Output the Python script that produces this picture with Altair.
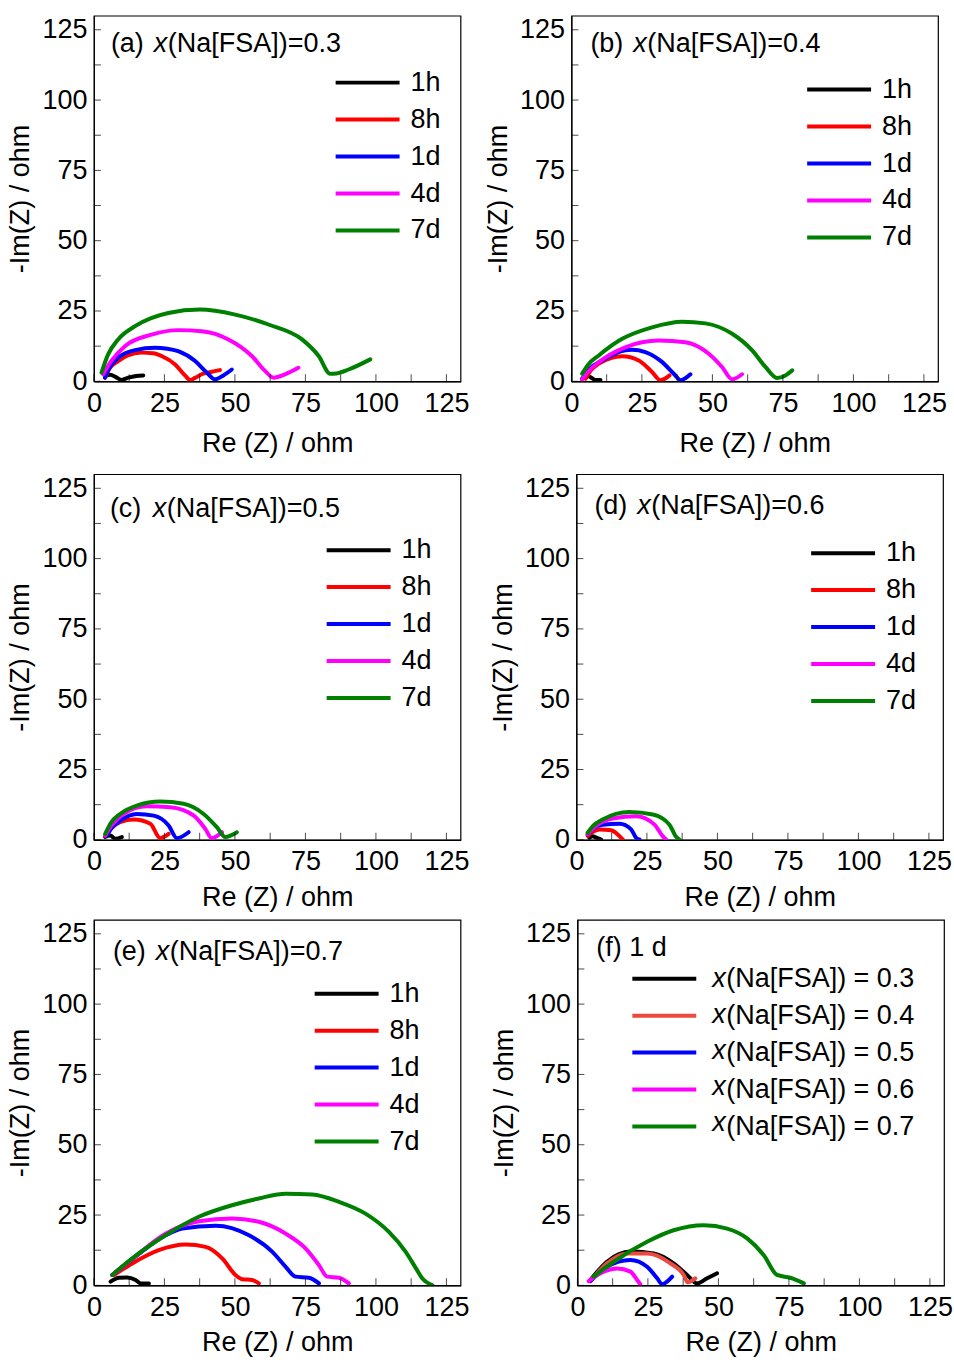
import altair as alt
import pandas as pd

FONT = "Liberation Sans"
FS = 27
W, H = 367, 366
DOMAIN = [0, 130]
LABEL_VALUES = [0, 25, 50, 75, 100, 125]
TICK_VALUES = [0, 12.5, 25, 37.5, 50, 62.5, 75, 87.5, 100, 112.5, 125]

TIME_LABELS = ["1h", "8h", "1d", "4d", "7d"]
TIME_COLORS = ["#000000", "#ff0000", "#0000ff", "#ff00ff", "#008000"]
F_LABELS = ["(Na[FSA]) = 0.3", "(Na[FSA]) = 0.4", "(Na[FSA]) = 0.5",
            "(Na[FSA]) = 0.6", "(Na[FSA]) = 0.7"]
F_COLORS = ["#000000", "#ec4a40", "#0000ff", "#ff00ff", "#008000"]

# ---- (a) x = 0.3 ----
A_1H_RE = [3.9, 5.7, 8.1, 9.8, 12.2, 15.0, 17.5]
A_1H_IM = [1.7, 2.3, 1.3, 0.5, 1.3, 1.9, 2.1]
A_8H_RE = [3.9, 5.5, 8.6, 12.0, 16.9, 21.0, 24.0, 28.8, 32.3, 34.1, 36.0, 38.2, 41.5, 44.7]
A_8H_IM = [1.3, 4.5, 7.2, 9.2, 10.2, 10.0, 9.0, 6.0, 2.1, 0.5, 1.3, 2.5, 3.3, 4.0]
A_1D_RE = [3.9, 5.5, 8.6, 14.6, 21.7, 26.0, 29.9, 35.9, 40.0, 43.0, 45.9, 48.9]
A_1D_IM = [1.3, 4.8, 8.4, 11.1, 11.9, 11.6, 10.7, 7.2, 3.1, 0.7, 2.1, 4.2]
A_4D_RE = [3.3, 6.0, 11.0, 20.5, 29.9, 38.2, 47.7, 56.0, 60.7, 63.7, 67.8, 72.5]
A_4D_IM = [2.5, 7.0, 12.5, 16.6, 18.2, 17.8, 14.9, 9.0, 3.7, 1.3, 2.5, 4.8]
A_7D_RE = [2.7, 5.0, 8.6, 14.6, 26.4, 37.6, 50.1, 61.9, 73.8, 79.7, 83.8, 86.0, 90.3, 98.0]
A_7D_IM = [3.1, 9.5, 14.9, 19.6, 24.3, 25.5, 23.7, 20.2, 14.9, 9.0, 2.7, 2.8, 4.2, 7.8]

# ---- (b) x = 0.4 ----
B_1H_RE = [3.8, 6.1, 7.5, 8.5, 10.3]
B_1H_IM = [0.9, 1.8, 1.0, 0.5, 0.5]
B_8H_RE = [5.0, 7.0, 9.7, 14.0, 18.0, 23.9, 28.6, 31.6, 34.8]
B_8H_IM = [0.9, 4.0, 6.3, 8.3, 8.9, 7.4, 3.3, 0.4, 2.1]
B_1D_RE = [3.8, 6.5, 10.9, 19.1, 21.5, 26.2, 32.1, 36.3, 38.7, 42.2]
B_1D_IM = [0.8, 4.5, 7.4, 11.0, 11.2, 10.4, 6.9, 2.7, 0.4, 2.5]
B_4D_RE = [3.8, 6.0, 9.7, 19.1, 31.0, 40.4, 48.7, 53.4, 57.0, 60.5]
B_4D_IM = [0.6, 3.5, 6.8, 12.1, 14.5, 13.9, 9.8, 5.1, 0.7, 2.5]
B_7D_RE = [3.8, 6.0, 9.7, 18.0, 28.6, 39.3, 47.5, 57.0, 64.1, 68.8, 72.9, 75.9, 78.3]
B_7D_IM = [2.7, 6.0, 9.2, 15.1, 19.2, 21.2, 20.6, 16.9, 11.0, 5.1, 1.2, 2.1, 3.9]

# ---- (c) x = 0.5 ----
C_1H_RE = [4.0, 5.8, 7.6, 9.9]
C_1H_IM = [1.0, 1.5, 0.4, 1.0]
C_8H_RE = [4.0, 6.0, 9.3, 14.1, 20.0, 23.5, 26.5]
C_8H_IM = [1.5, 4.0, 6.3, 7.2, 5.7, 0.6, 2.1]
C_1D_RE = [4.6, 6.5, 9.3, 15.2, 21.2, 26.5, 29.4, 33.6]
C_1D_IM = [1.5, 4.5, 6.8, 9.2, 8.6, 5.1, 0.6, 2.7]
C_4D_RE = [4.0, 6.5, 10.5, 18.8, 27.1, 35.4, 39.5, 41.8, 45.4]
C_4D_IM = [1.5, 5.5, 9.2, 11.9, 11.6, 8.6, 3.9, 0.6, 2.7]
C_7D_RE = [4.0, 6.0, 9.3, 15.2, 23.5, 31.8, 38.9, 43.6, 46.6, 50.7]
C_7D_IM = [2.1, 6.0, 9.2, 12.2, 13.6, 12.8, 9.2, 4.5, 1.0, 2.7]

# ---- (d) x = 0.6 ----
D_1H_RE = [4.6, 5.8, 7.0, 8.8]
D_1H_IM = [0.7, 1.3, 0.8, 0.1]
D_8H_RE = [4.0, 6.0, 8.2, 12.3, 15.3, 16.5]
D_8H_IM = [1.4, 3.0, 3.7, 3.4, 1.3, 0.1]
D_1D_RE = [4.0, 6.0, 9.3, 15.3, 19.4, 21.2, 22.4]
D_1D_IM = [1.9, 4.0, 5.4, 5.7, 3.7, 0.7, 0.1]
D_4D_RE = [4.0, 7.0, 12.9, 21.2, 27.7, 30.6, 31.8]
D_4D_IM = [2.0, 5.0, 7.6, 8.4, 5.4, 1.3, 0.1]
D_7D_RE = [4.0, 6.0, 9.3, 18.8, 27.1, 33.0, 35.2, 36.6]
D_7D_IM = [2.5, 5.0, 7.2, 9.9, 9.0, 5.4, 1.3, 0.1]

# ---- (e) x = 0.7 ----
E_1H_RE = [5.9, 8.9, 11.8, 14.8, 16.6, 19.5]
E_1H_IM = [1.3, 2.7, 2.8, 1.9, 0.7, 0.7]
E_8H_RE = [7.1, 13.6, 23.0, 32.5, 39.6, 45.5, 50.2, 52.6, 56.1, 58.5]
E_8H_IM = [3.7, 7.8, 12.5, 14.5, 13.7, 9.6, 3.7, 2.2, 1.9, 0.7]
E_1D_RE = [6.5, 13.6, 25.4, 31.3, 43.2, 55.0, 63.2, 68.0, 71.5, 76.2, 79.8]
E_1D_IM = [3.7, 9.3, 17.8, 20.2, 21.2, 17.8, 12.0, 6.6, 3.1, 2.7, 0.7]
E_4D_RE = [6.5, 13.6, 25.4, 37.2, 49.0, 58.5, 68.0, 75.1, 79.8, 82.7, 86.9, 90.4]
E_4D_IM = [3.7, 9.4, 18.4, 22.8, 23.8, 22.6, 18.4, 13.1, 7.2, 3.1, 2.7, 0.7]
E_7D_RE = [6.5, 13.6, 25.4, 37.2, 49.0, 58.5, 68.0, 77.4, 86.9, 96.3, 104.6, 110.5, 114.6, 116.4, 120.0]
E_7D_IM = [3.7, 9.6, 17.8, 24.4, 28.5, 30.9, 32.6, 32.3, 29.7, 25.5, 19.0, 12.0, 5.4, 2.5, 0.1]

# ---- (f) 1 d ----
F_03_RE = [4.6, 10.5, 18.8, 27.1, 34.1, 38.9, 42.4, 46.0, 49.5]
F_03_IM = [1.9, 8.4, 12.0, 11.3, 7.8, 3.7, 0.7, 2.5, 4.3]
F_04_RE = [4.6, 10.5, 17.6, 24.7, 33.0, 37.7, 39.1, 41.8]
F_04_IM = [1.5, 7.8, 11.3, 11.3, 7.8, 3.7, 1.1, 2.5]
F_05_RE = [4.6, 10.5, 18.8, 24.7, 28.3, 30.0, 33.6]
F_05_IM = [1.5, 6.6, 9.0, 6.6, 2.5, 0.4, 3.1]
F_06_RE = [4.0, 8.2, 14.1, 18.8, 21.2, 22.3]
F_06_IM = [1.5, 4.3, 6.0, 4.9, 1.9, 0.4]
F_07_RE = [5.8, 12.9, 24.7, 34.1, 44.8, 53.1, 60.2, 66.1, 70.8, 75.5, 80.3]
F_07_IM = [3.1, 8.4, 15.5, 19.6, 21.4, 20.2, 16.7, 10.7, 3.7, 2.7, 0.7]


def make_df(labels, series):
    rows = []
    for lab, (re, im) in zip(labels, series):
        for i, (r, m) in enumerate(zip(re, im)):
            rows.append({"series": lab, "re": r, "im": m, "i": i})
    return pd.DataFrame(rows)


def panel(df, labels, colors, tag, rest, italic_x, title_off, legend_off,
          label_offset=9, legend_italic=False, xtitle_pad=14):
    xs = alt.Scale(domain=DOMAIN, nice=False, zero=False)
    ys = alt.Scale(domain=DOMAIN, nice=False, zero=False)
    xaxis = alt.Axis(values=LABEL_VALUES, title="Re (Z) / ohm", titlePadding=xtitle_pad)
    yaxis = alt.Axis(values=LABEL_VALUES, title="-Im(Z) / ohm", titlePadding=7)

    lines = alt.Chart(df).mark_line(strokeWidth=4, clip=True, strokeJoin="round",
                                    strokeCap="round", interpolate="monotone").encode(
        x=alt.X("re:Q", scale=xs, axis=xaxis),
        y=alt.Y("im:Q", scale=ys, axis=yaxis),
        color=alt.Color("series:N", scale=alt.Scale(domain=labels, range=colors),
                        legend=alt.Legend(title=None, orient="none",
                                          legendX=legend_off[0], legendY=legend_off[1],
                                          labelOffset=label_offset)),
        order=alt.Order("i:Q"),
    )

    tdf = pd.DataFrame({"re": TICK_VALUES, "im": TICK_VALUES})
    xt = alt.Chart(tdf).mark_tick(orient="vertical", size=7, thickness=1,
                                  color="black").encode(
        x=alt.X("re:Q", scale=xs, axis=xaxis), y=alt.value(H - 3.5))
    yt = alt.Chart(tdf).mark_tick(orient="horizontal", size=7, thickness=1,
                                  color="black").encode(
        y=alt.Y("im:Q", scale=ys, axis=yaxis), x=alt.value(3.5))

    one = pd.DataFrame({"k": [0]})
    tx, ty = title_off
    layers = [lines, xt, yt]
    layers.append(alt.Chart(one).mark_text(text=tag, align="left", baseline="alphabetic",
                                           font=FONT, fontSize=FS, color="black")
                  .encode(x=alt.value(tx), y=alt.value(ty)))
    if italic_x:
        layers.append(alt.Chart(one).mark_text(text="x", align="left", baseline="alphabetic",
                                               font=FONT, fontSize=FS, fontStyle="italic",
                                               color="black")
                      .encode(x=alt.value(tx + 43), y=alt.value(ty)))
        layers.append(alt.Chart(one).mark_text(text=rest, align="left", baseline="alphabetic",
                                               font=FONT, fontSize=FS, color="black")
                      .encode(x=alt.value(tx + 57), y=alt.value(ty)))
    if legend_italic:
        for k in range(len(labels)):
            layers.append(alt.Chart(one).mark_text(text="x", align="left", baseline="middle",
                                                   font=FONT, fontSize=FS, fontStyle="italic",
                                                   color="black")
                          .encode(x=alt.value(legend_off[0] + 82),
                                  y=alt.value(legend_off[1] + 13 + 36 * k)))
    return alt.layer(*layers).properties(width=W, height=H)


pa = panel(make_df(TIME_LABELS, [(A_1H_RE, A_1H_IM), (A_8H_RE, A_8H_IM), (A_1D_RE, A_1D_IM),
                                 (A_4D_RE, A_4D_IM), (A_7D_RE, A_7D_IM)]),
           TIME_LABELS, TIME_COLORS, "(a)", "(Na[FSA])=0.3", True, (17, 36), (240, 54))
pb = panel(make_df(TIME_LABELS, [(B_1H_RE, B_1H_IM), (B_8H_RE, B_8H_IM), (B_1D_RE, B_1D_IM),
                                 (B_4D_RE, B_4D_IM), (B_7D_RE, B_7D_IM)]),
           TIME_LABELS, TIME_COLORS, "(b)", "(Na[FSA])=0.4", True, (19, 36), (234, 61))
pc = panel(make_df(TIME_LABELS, [(C_1H_RE, C_1H_IM), (C_8H_RE, C_8H_IM), (C_1D_RE, C_1D_IM),
                                 (C_4D_RE, C_4D_IM), (C_7D_RE, C_7D_IM)]),
           TIME_LABELS, TIME_COLORS, "(c)", "(Na[FSA])=0.5", True, (16, 43), (231, 63),
           xtitle_pad=10)
pd_ = panel(make_df(TIME_LABELS, [(D_1H_RE, D_1H_IM), (D_8H_RE, D_8H_IM), (D_1D_RE, D_1D_IM),
                                  (D_4D_RE, D_4D_IM), (D_7D_RE, D_7D_IM)]),
            TIME_LABELS, TIME_COLORS, "(d)", "(Na[FSA])=0.6", True, (18, 40), (233, 66),
            xtitle_pad=10)
pe = panel(make_df(TIME_LABELS, [(E_1H_RE, E_1H_IM), (E_8H_RE, E_8H_IM), (E_1D_RE, E_1D_IM),
                                 (E_4D_RE, E_4D_IM), (E_7D_RE, E_7D_IM)]),
           TIME_LABELS, TIME_COLORS, "(e)", "(Na[FSA])=0.7", True, (19, 40), (219, 61),
           xtitle_pad=9)
pf = panel(make_df(F_LABELS, [(F_03_RE, F_03_IM), (F_04_RE, F_04_IM), (F_05_RE, F_05_IM),
                              (F_06_RE, F_06_IM), (F_07_RE, F_07_IM)]),
           F_LABELS, F_COLORS, "(f) 1 d", "", False, (19, 36), (53, 46),
           label_offset=28, legend_italic=True, xtitle_pad=9)


def res(c):
    return c.resolve_scale(color="independent").resolve_legend(color="independent")


row1 = res(alt.hconcat(pa, pb, spacing=13))
row2 = res(alt.hconcat(pc, pd_, spacing=18))
row3 = res(alt.hconcat(pe, pf, spacing=19))
lower = res(alt.vconcat(row2, row3, spacing=7))
chart = res(alt.vconcat(row1, lower, spacing=16)).properties(
    padding={"left": 6, "top": 14, "right": 0, "bottom": 0},
    background="white",
).configure_view(stroke="black", strokeWidth=1.2).configure_axis(
    labelFont=FONT, titleFont=FONT, labelFontSize=FS, titleFontSize=FS,
    titleFontWeight="normal", labelColor="black", titleColor="black",
    domainColor="black", domainWidth=1.2, grid=False, ticks=False, tickSize=0,
    labelFlush=False, labelOverlap=False,
).configure_axisX(labelPadding=9).configure_axisY(labelPadding=7).configure_legend(
    labelFont=FONT, labelFontSize=FS, labelColor="black", symbolType="stroke",
    symbolSize=4096, symbolStrokeWidth=4, clipHeight=26, rowPadding=10, padding=0,
    labelLimit=0, symbolOffset=0,
)

chart.save("out.html", embed_options={"renderer": "svg", "actions": False})
